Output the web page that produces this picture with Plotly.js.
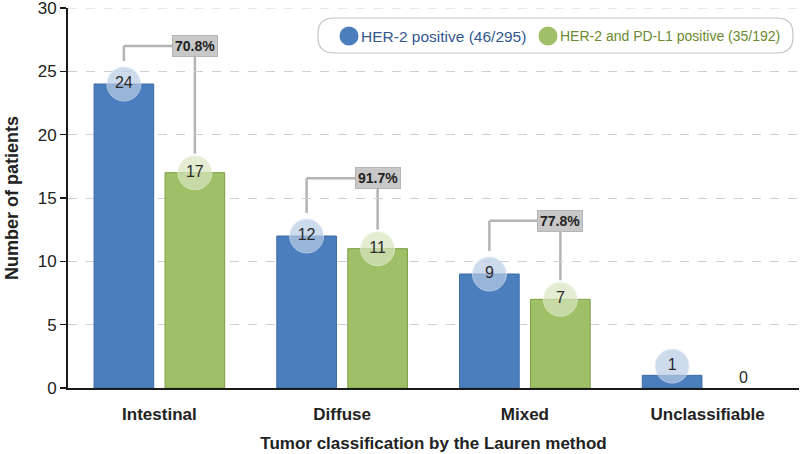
<!DOCTYPE html>
<html>
<head>
<meta charset="utf-8">
<script src="https://cdn.plot.ly/plotly-3.0.1.min.js"></script>
<style>html,body{margin:0;padding:0;background:#fff;}#chart{width:800px;height:454px;}</style>
</head>
<body>
<div id="chart"></div>
<script>
// ---- data ----
const categories = ['Intestinal', 'Diffuse', 'Mixed', 'Unclassifiable'];
const her2Values = [24, 12, 9, 1];
const her2Pdl1Values = [17, 11, 7, 0];
const seriesNames = ['HER-2 positive (46/295)', 'HER-2 and PD-L1 positive (35/192)'];
const yTicks = [0, 5, 10, 15, 20, 25, 30];

// ---- layout constants ----
const W = 800, H = 454;
const M = {l: 68, r: 1, t: 8, b: 66};
const Y_MAX = 30;
const BARGAP = 0.223, BARGROUPGAP = 0.16;
const BRACKET_LEVELS = [27.0, 16.55, 13.2];
const CIRCLE_R = 17;
const plotW = W - M.l - M.r, plotH = H - M.t - M.b;
const unitPerPx = Y_MAX / plotH;
const slotOff = (1 - BARGAP) / 4;

const BLUE = '#4a7ebd', BLUE_LINE = '#3c6aa5', GREEN = '#9fc066', GREEN_LINE = '#7e9e46';
const BLUE_C = '#b9cce6', GREEN_C = '#d9e6c0';
const FONT = 'Arial, "Liberation Sans", sans-serif';

const xIdx = categories.map((_, i) => i);
const circleY = v => Math.max(v, (CIRCLE_R + 5) * unitPerPx);

const traces = [
  {type: 'bar', x: xIdx, y: her2Values, name: seriesNames[0], showlegend: false,
   marker: {color: BLUE, line: {color: BLUE_LINE, width: her2Values.map(v => v > 0 ? 1 : 0)}}, hoverinfo: 'skip'},
  {type: 'bar', x: xIdx, y: her2Pdl1Values, name: seriesNames[1], showlegend: false,
   marker: {color: GREEN, line: {color: GREEN_LINE, width: her2Pdl1Values.map(v => v > 0 ? 1 : 0)}}, hoverinfo: 'skip'}
];
[[her2Values, -slotOff, BLUE_C, '#dfe8f5'], [her2Pdl1Values, slotOff, GREEN_C, '#eef3e2']].forEach(([vals, off, col, lc]) => {
  traces.push({
    type: 'scatter', mode: 'markers+text', showlegend: false, cliponaxis: false,
    x: xIdx.map(i => i + off), y: vals.map(circleY),
    text: vals.map(v => v > 0 ? String(v) : ''), textposition: 'middle center',
    textfont: {family: FONT, size: 16, color: '#2a2a2a'},
    marker: {size: vals.map(v => v > 0 ? CIRCLE_R * 2 : 0), color: col, line: {color: lc, width: 1}},
    hoverinfo: 'skip'
  });
});

const shapes = [];
const annotations = [];

// top gridline
shapes.push({type: 'line', xref: 'paper', yref: 'y', layer: 'below', x0: 0, x1: 1, y0: Y_MAX, y1: Y_MAX,
  line: {color: '#cfcfcf', width: 1, dash: 'dash'}});

// brackets with percentages
categories.forEach((c, i) => {
  const a = her2Values[i], b = her2Pdl1Values[i];
  if (!(a > 0 && b > 0) || BRACKET_LEVELS[i] === undefined) return;
  const yL = BRACKET_LEVELS[i];
  const xl = i - slotOff, xr = i + slotOff;
  const line = {color: '#b4b4b4', width: 2.5};
  shapes.push({type: 'line', xref: 'x', yref: 'y', layer: 'below', x0: xl, x1: xr, y0: yL, y1: yL, line});
  shapes.push({type: 'line', xref: 'x', yref: 'y', layer: 'below', x0: xl, x1: xl, y0: yL,
    y1: circleY(a) + (CIRCLE_R + 6) * unitPerPx, line});
  shapes.push({type: 'line', xref: 'x', yref: 'y', layer: 'below', x0: xr, x1: xr, y0: yL,
    y1: circleY(b) + (CIRCLE_R + 2) * unitPerPx, line});
  annotations.push({xref: 'x', yref: 'y', x: xr, y: yL, showarrow: false,
    text: (b / a * 100).toFixed(1) + '%',
    font: {family: FONT, size: 14, color: '#222', weight: 'bold'},
    bgcolor: '#c8c8c8', bordercolor: '#b5b5b5', borderwidth: 1, borderpad: 2});
});

// zero-value labels
[[her2Values, -slotOff], [her2Pdl1Values, slotOff]].forEach(([vals, off]) => {
  vals.forEach((v, i) => {
    if (v === 0) annotations.push({xref: 'x', yref: 'y', x: i + off, y: 0, yshift: 11, showarrow: false,
      text: '0', font: {family: FONT, size: 16, color: '#2a2a2a'}});
  });
});

// custom legend
const px2x = px => (px - M.l) / plotW;
const px2y = py => (M.t + plotH - py) / plotH;
(function () {
  const x0 = 318, x1 = 793, y0 = 18, y1 = 53, r = 16;
  const P = (x, y) => px2x(x) + ',' + px2y(y);
  const path = 'M' + P(x0 + r, y0) + ' L' + P(x1 - r, y0) + ' Q' + P(x1, y0) + ' ' + P(x1, y0 + r) +
    ' L' + P(x1, y1 - r) + ' Q' + P(x1, y1) + ' ' + P(x1 - r, y1) +
    ' L' + P(x0 + r, y1) + ' Q' + P(x0, y1) + ' ' + P(x0, y1 - r) +
    ' L' + P(x0, y0 + r) + ' Q' + P(x0, y0) + ' ' + P(x0 + r, y0) + ' Z';
  shapes.push({type: 'path', xref: 'paper', yref: 'paper', layer: 'above', path,
    fillcolor: '#ffffff', line: {color: '#c4c4c4', width: 1.2}});
  const items = [[349, BLUE, '#33578f', seriesNames[0], 15.5], [548, GREEN, '#6a8a2c', seriesNames[1], 14]];
  const cy = 36, cr = 9.5;
  items.forEach(([cx, col, tcol, name, fs]) => {
    shapes.push({type: 'circle', xref: 'paper', yref: 'paper', layer: 'above',
      x0: px2x(cx - cr), x1: px2x(cx + cr), y0: px2y(cy + cr), y1: px2y(cy - cr),
      fillcolor: col, line: {width: 0}});
    annotations.push({xref: 'paper', yref: 'paper', x: px2x(cx + cr + 0.5), y: px2y(cy), xanchor: 'left', yanchor: 'middle',
      showarrow: false, text: name, font: {family: FONT, size: fs, color: tcol}});
  });
})();

const layout = {
  width: W, height: H, margin: M,
  paper_bgcolor: '#fff', plot_bgcolor: '#fff',
  barmode: 'group', bargap: BARGAP, bargroupgap: BARGROUPGAP,
  showlegend: false,
  xaxis: {
    range: [-0.5, categories.length - 0.5], tickvals: xIdx, ticktext: categories,
    showline: true, linecolor: '#1a1a1a', linewidth: 2, ticks: '', showgrid: false, zeroline: false,
    ticklabelstandoff: 10,
    tickfont: {family: FONT, size: 17, color: '#222', weight: 'bold'},
    title: {text: 'Tumor classification by the Lauren method', standoff: 14,
      font: {family: FONT, size: 17, color: '#222', weight: 'bold'}}
  },
  yaxis: {
    range: [0, Y_MAX], tickvals: yTicks, ticktext: yTicks.map(String),
    showline: true, linecolor: '#1a1a1a', linewidth: 2, ticks: 'outside', ticklen: 6, tickwidth: 1.5, tickcolor: '#1a1a1a',
    showgrid: true, gridcolor: '#cfcfcf', griddash: 'dash', gridwidth: 1, zeroline: false,
    ticklabeloverflow: 'allow',
    tickfont: {family: FONT, size: 17, color: '#222'},
    title: {text: 'Number of patients', standoff: 14,
      font: {family: FONT, size: 18, color: '#222', weight: 'bold'}}
  },
  shapes, annotations
};

Plotly.newPlot('chart', traces, layout, {displayModeBar: false, staticPlot: true});
</script>
</body>
</html>
